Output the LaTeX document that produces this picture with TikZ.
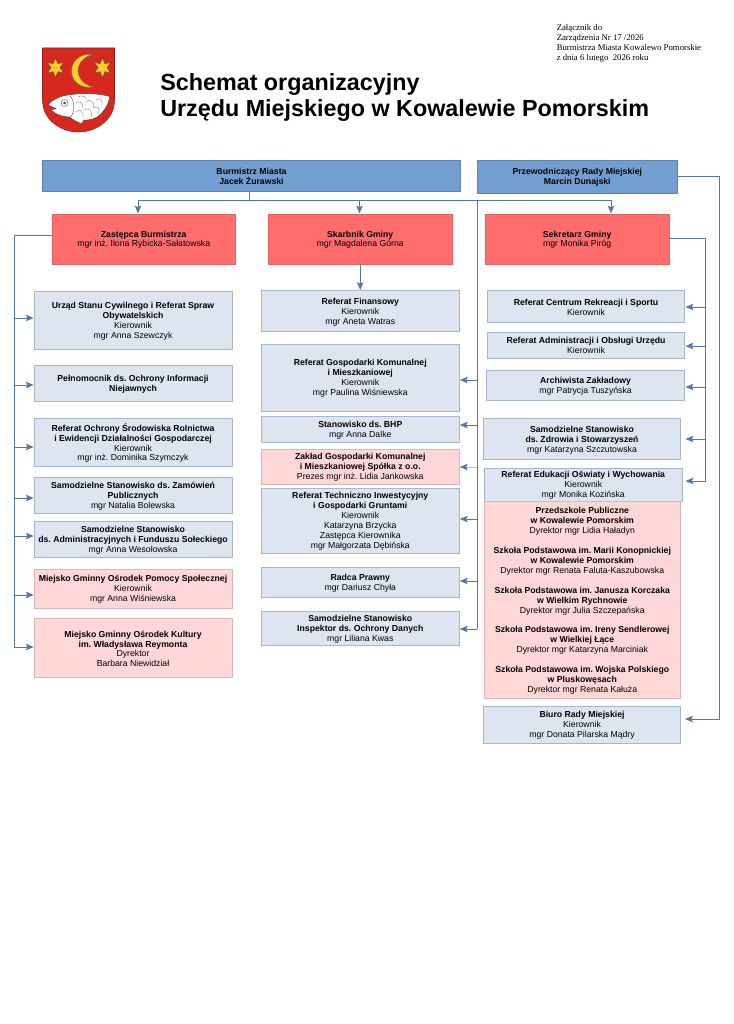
\documentclass[tikz,border=0pt]{standalone}
\usepackage{fontspec}
\setmainfont{Liberation Sans}
\newfontfamily\serifnote{Liberation Serif}
\usetikzlibrary{arrows.meta}
\definecolor{linecol}{RGB}{84,119,168}
\definecolor{fadecol}{RGB}{190,200,215}
\definecolor{boxline}{RGB}{165,183,206}
\definecolor{headfill}{RGB}{114,159,207}
\definecolor{headline}{RGB}{95,130,175}
\definecolor{chieffill}{RGB}{255,109,109}
\definecolor{plainfill}{RGB}{221,230,240}
\definecolor{unitfill}{RGB}{255,215,215}
\definecolor{unitline}{RGB}{222,180,180}
\definecolor{crestred}{RGB}{214,40,30}
\definecolor{crestgold}{RGB}{250,205,40}
\tikzset{
	headbox/.style={draw=headline,fill=headfill,line width=0.5pt},
	chiefbox/.style={draw=chieffill!90!black,fill=chieffill,line width=0.4pt},
	plainbox/.style={draw=boxline,fill=plainfill,line width=0.5pt},
	unitbox/.style={draw=unitline,fill=unitfill,line width=0.5pt},
	wire/.style={draw=linecol,line width=0.7pt},
	wirearrow/.style={wire,-{Stealth[length=5.8pt,width=4.8pt,inset=1pt,color=linecol]}}
}
\newcommand{\chartfont}{\frenchspacing\fontsize{6.52pt}{7.45pt}\selectfont}
% one box: name, style, left, top, right, bottom, text
\newcommand{\chartbox}[7]{%
	\pgfmathsetlengthmacro{\boxw}{(#5-#3)*0.75-3}%
	\node[#2,inner sep=0pt,anchor=north west,minimum width=(#5-#3-0.5)*0.75pt,minimum height=(#6-#4-0.5)*0.75pt,
	font=\chartfont] (#1) at (#3-0.3,#4-0.5) {\raisebox{-0.75pt}[\height][\depth]{\parbox{\boxw}{\centering #7}}};}
\begin{document}
\begin{tikzpicture}[x=0.75pt,y=-0.75pt]
	\useasboundingbox (0,0) rectangle (733,1024);
	
	% the note
	\node[anchor=north west,inner sep=0pt,align=left,font=\serifnote\fontsize{6.55pt}{7.3pt}\selectfont] (note) at (556.5,24.5)
	{Załącznik do\\Zarządzenia Nr 17 /2026\\Burmistrza Miasta Kowalewo Pomorskie\\z dnia 6 lutego~~2026 roku};
	
	% the title
	\node[anchor=north west,inner sep=0pt,align=left,font=\bfseries\fontsize{17.5pt}{19.5pt}\selectfont] (title) at (160,73.5)
	{Schemat organizacyjny\\Urzędu Miejskiego w Kowalewie Pomorskim};
	
	% the crest
	\draw[fill=crestred,draw=crestred!70!black,line width=0.4pt] (42.5,48) -- (114.5,48) -- (114.5,100) .. controls (114.5,120) and (96,132) .. (78.5,132) .. controls (61,132) and (42.5,120) .. (42.5,100) -- cycle;
	\foreach \sx in {55.5,102.5} {
		\draw[fill=crestgold,draw=black!70,line width=0.25pt] (\sx,58) -- (\sx+2.4,63.8) -- (\sx+8,62.5) -- (\sx+4.4,67.7) -- (\sx+8,73) -- (\sx+2.4,71.6) -- (\sx,77.4) -- (\sx-2.4,71.6) -- (\sx-8,73) -- (\sx-4.4,67.7) -- (\sx-8,62.5) -- (\sx-2.4,63.8) -- cycle;
	}
	\draw[fill=crestgold,draw=black!60,line width=0.25pt] (92.5,54.5) .. controls (80,53) and (71.5,61) .. (71.5,71) .. controls (71.5,81) and (80,89) .. (93,87) .. controls (84,85) and (78,78) .. (78,71) .. controls (78,63) and (84,57) .. (92.5,54.5) -- cycle;
	\draw[fill=white,draw=black!75,line width=0.3pt] (48,105) .. controls (52,100) and (60,96) .. (68,95) .. controls (80,93) and (98,93) .. (109.5,96.5) .. controls (109,104) and (104,112) .. (97,117) .. controls (92,120) and (88,120) .. (84,120) -- (81.5,123.5) .. controls (77,122) and (73,120) .. (70,117) .. controls (64,117) and (56,115) .. (51,110) -- (56,108.5) -- cycle;
	\draw[black!70,line width=0.3pt] (70,95.5) .. controls (75,102) and (75,111) .. (71,117);
	\draw[black!60,line width=0.22pt] (76,103) .. controls (80,100) and (83,103) .. (83,108) (76,112) .. controls (80,108) and (84,111) .. (83,118) (84,110) .. controls (88,107) and (93,110) .. (91,118) (86,102) .. controls (90,98) and (94,102) .. (94,107) (93,108) .. controls (97,105) and (101,108) .. (98,114) (96,100) .. controls (100,97) and (103,100) .. (102,105) (78,97) .. controls (81,95) and (85,96) .. (87,99);
	\draw[fill=white,draw=black!70,line width=0.25pt] (64.5,103) circle (3.4);
	\fill[black!70] (64.5,103) circle (1.5);
	
	% the top row
	\chartbox{burmistrz}{headbox}{42.5}{160.5}{461}{192}{\textbf{Burmistrz Miasta}\\\textbf{Jacek Żurawski}}
	\chartbox{rada}{headbox}{477}{160.5}{678}{193.5}{\textbf{Przewodniczący Rady Miejskiej}\\\textbf{Marcin Dunajski}}
	\chartbox{zastepca}{chiefbox}{52}{214}{236}{264.5}{\textbf{Zastępca Burmistrza}\\mgr inż. Ilona Rybicka-Sałatowska}
	\chartbox{skarbnik}{chiefbox}{268}{214}{453}{264.5}{\textbf{Skarbnik Gminy}\\mgr Magdalena Górna}
	\chartbox{sekretarz}{chiefbox}{485}{214}{670}{264.5}{\textbf{Sekretarz Gminy}\\mgr Monika Piróg}
	
	% the left column
	\chartbox{urzad}{plainbox}{34}{291.5}{232.5}{349.5}{\textbf{Urząd Stanu Cywilnego i Referat Spraw}\\\textbf{Obywatelskich}\\Kierownik\\mgr Anna Szewczyk}
	\chartbox{pelnomocnik}{plainbox}{34}{365}{232.5}{401.5}{\textbf{Pełnomocnik ds. Ochrony Informacji}\\\textbf{Niejawnych}}
	\chartbox{ochrona}{plainbox}{34}{418.5}{232.5}{466.5}{\textbf{Referat Ochrony Środowiska Rolnictwa}\\\textbf{i Ewidencji Działalności Gospodarczej}\\Kierownik\\mgr inż. Dominika Szymczyk}
	\chartbox{zamowienia}{plainbox}{34}{477.5}{232.5}{513.5}{\textbf{Samodzielne Stanowisko ds. Zamówień}\\\textbf{Publicznych}\\mgr Natalia Bolewska}
	\chartbox{fundusz}{plainbox}{34}{521}{232.5}{557.5}{\textbf{Samodzielne Stanowisko}\\\textbf{ds. Administracyjnych i Funduszu Sołeckiego}\\mgr Anna Wesołowska}
	\chartbox{mgops}{unitbox}{34}{569.5}{232.5}{608.5}{\textbf{Miejsko Gminny Ośrodek Pomocy Społecznej}\\Kierownik\\mgr Anna Wiśniewska}
	\chartbox{mgok}{unitbox}{34}{618.5}{232.5}{678}{\textbf{Miejsko Gminny Ośrodek Kultury}\\\textbf{im. Władysława Reymonta}\\Dyrektor\\Barbara Niewidział}
	
	% the middle column
	\chartbox{finansowy}{plainbox}{261}{290.5}{460}{332}{\textbf{Referat Finansowy}\\Kierownik\\mgr Aneta Watras}
	\chartbox{gospodarka}{plainbox}{261}{344}{460}{411.5}{\textbf{Referat Gospodarki Komunalnej}\\\textbf{i Mieszkaniowej}\\Kierownik\\mgr Paulina Wiśniewska}
	\chartbox{bhp}{plainbox}{261}{416.5}{460}{443}{\textbf{Stanowisko ds. BHP}\\mgr Anna Dalke}
	\chartbox{zaklad}{unitbox}{261}{449.5}{460}{484.5}{\textbf{Zakład Gospodarki Komunalnej}\\\textbf{i Mieszkaniowej Spółka z o.o.}\\Prezes mgr inż. Lidia Jankowska}
	\chartbox{techniczny}{plainbox}{261}{488}{460}{553.5}{\textbf{Referat Techniczno Inwestycyjny}\\\textbf{i Gospodarki Gruntami}\\Kierownik\\Katarzyna Brzycka\\Zastępca Kierownika\\mgr Małgorzata Dębińska}
	\chartbox{radca}{plainbox}{261}{567.5}{460}{598}{\textbf{Radca Prawny}\\mgr Dariusz Chyła}
	\chartbox{inspektor}{plainbox}{261}{611.5}{460}{646}{\textbf{Samodzielne Stanowisko}\\\textbf{Inspektor ds. Ochrony Danych}\\mgr Liliana Kwas}
	
	% the right column
	\chartbox{centrum}{plainbox}{487.5}{290.5}{685}{322.5}{\textbf{Referat Centrum Rekreacji i Sportu}\\Kierownik}
	\chartbox{obsluga}{plainbox}{487.5}{332}{685}{358.5}{\textbf{Referat Administracji i Obsługi Urzędu}\\Kierownik}
	\chartbox{archiwista}{plainbox}{486.5}{370.5}{685}{400.5}{\textbf{Archiwista Zakładowy}\\mgr Patrycja Tuszyńska}
	\chartbox{zdrowie}{plainbox}{483.5}{418.5}{681}{460}{\textbf{Samodzielne Stanowisko}\\\textbf{ds. Zdrowia i Stowarzyszeń}\\mgr Katarzyna Szczutowska}
	\chartbox{edukacja}{plainbox}{484}{468.5}{683}{501.5}{\textbf{Referat Edukacji Oświaty i Wychowania}\\Kierownik\\mgr Monika Kozińska}
	\chartbox{szkoly}{unitbox}{484}{501.5}{681}{699}{\textbf{Przedszkole Publiczne}\\\textbf{w Kowalewie Pomorskim}\\Dyrektor mgr Lidia Haładyn\\[7.4pt]
		\textbf{Szkoła Podstawowa im. Marii Konopnickiej}\\\textbf{w Kowalewie Pomorskim}\\Dyrektor mgr Renata Faluta-Kaszubowska\\[7.4pt]
		\textbf{Szkoła Podstawowa im. Janusza Korczaka}\\\textbf{w Wielkim Rychnowie}\\Dyrektor mgr Julia Szczepańska\\[7.4pt]
		\textbf{Szkoła Podstawowa im. Ireny Sendlerowej}\\\textbf{w Wielkiej Łące}\\Dyrektor mgr Katarzyna Marciniak\\[7.4pt]
		\textbf{Szkoła Podstawowa im. Wojska Polskiego}\\\textbf{w Pluskowęsach}\\Dyrektor mgr Renata Kałuża}
	\chartbox{biuro}{plainbox}{483.5}{706.5}{681}{743.5}{\textbf{Biuro Rady Miejskiej}\\Kierownik\\mgr Donata Pilarska Mądry}
	
	% the trunk under the mayor
	\coordinate (busdrop) at (249,200);
	\coordinate (busleft) at (138,200);
	\coordinate (busmid) at (359.5,200);
	\coordinate (busright) at (611,200);
	\coordinate (midtop) at (477,200);
	\coordinate (midend) at (477,629);
	\draw[wire] (burmistrz.south -| busdrop) -- (busdrop);
	\draw[wire] (busleft) -- (busright);
	\draw[wirearrow] (busleft) -- (busleft |- zastepca.north);
	\draw[wirearrow] (busmid) -- (busmid |- skarbnik.north);
	\draw[wirearrow] (busright) -- (busright |- sekretarz.north);
	\draw[wirearrow] (skarbnik.south) -- (finansowy.north -| skarbnik.south);
	\draw[wire] (midtop) -- (midend);
	\foreach \n/\y in {gospodarka/380,bhp/425,techniczny/519,radca/581,inspektor/629} {
		\coordinate (m\n) at (477,\y);
		\draw[wirearrow] (m\n) -- (m\n -| \n.east);
	}
	\coordinate (mzaklad) at (477,467);
	\draw[wirearrow,draw=fadecol] (mzaklad) -- (mzaklad -| zaklad.east);
	
	% the left rail
	\coordinate (railtop) at (14,235.5);
	\coordinate (railend) at (14,647);
	\draw[wire] (zastepca.west |- railtop) -- (railtop) -- (railend);
	\foreach \n/\y in {urzad/318,pelnomocnik/385,ochrona/447,zamowienia/498,fundusz/536,mgops/595,mgok/647} {
		\coordinate (l\n) at (14,\y);
		\draw[wirearrow] (l\n) -- (l\n -| \n.west);
	}
	
	% the right rail
	\coordinate (secrtop) at (705.5,238.5);
	\coordinate (secrend) at (705.5,481);
	\draw[wire] (sekretarz.east |- secrtop) -- (secrtop) -- (secrend);
	\foreach \n/\y in {centrum/307,obsluga/346,archiwista/387,zdrowie/439,edukacja/481} {
		\coordinate (r\n) at (705.5,\y);
		\coordinate (e\n) at (685.5,\y);
		\draw[wirearrow] (r\n) -- (e\n);
	}
	
	% the council line
	\coordinate (radatop) at (719.5,176.5);
	\coordinate (radaend) at (719.5,719);
	\coordinate (radatip) at (685,719);
	\draw[wire] (rada.east |- radatop) -- (radatop) -- (radaend);
	\draw[wirearrow] (radaend) -- (radatip);
\end{tikzpicture}
\end{document}
